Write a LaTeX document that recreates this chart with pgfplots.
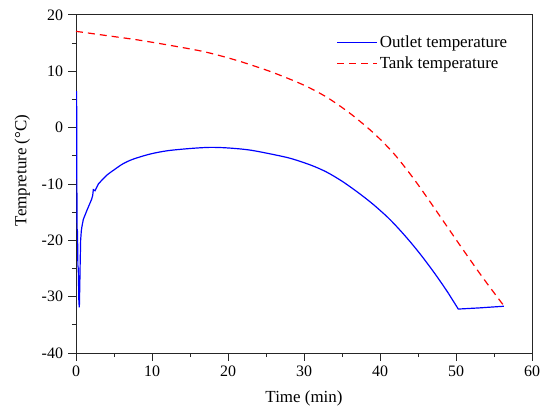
\documentclass[border=0pt]{standalone}
\usepackage{fontspec}
\setmainfont{Liberation Serif}
\usepackage{pgfplots}
\pgfplotsset{compat=1.18}
\begin{document}
\fontsize{16}{19}\selectfont
\begin{tikzpicture}
\begin{axis}[
 scale only axis, width=456bp, height=338bp,
 xmin=0, xmax=60, ymin=-40, ymax=20,
 xtick={0,10,...,60}, ytick={-40,-30,...,20},
 minor tick num=1,
 tick pos=left, tick align=outside,
 major tick length=7.5bp, minor tick length=4bp,
 axis line style={line width=1pt, black!85},
 every tick/.style={black!85, line width=1pt},
 /pgf/number format/assume math mode=true,
 ticklabel style={font=\fontsize{16}{19}\selectfont},
 xlabel={Time (min)}, ylabel={Tempreture (°C)},
 label style={font=\fontsize{17}{20}\selectfont},
 xlabel style={yshift=-3bp},
 ylabel style={at={(ticklabel cs:0.54)}},
 ylabel shift=1bp,
 legend cell align=left,
 legend style={draw=none, fill=none, at={(rel axis cs:0.957,0.952)}, anchor=north east, font=\fontsize{17}{21}\selectfont, row sep=3bp},
 legend image code/.code={\draw[#1] (0bp,0bp) -- (40bp,0bp);},
]
\addplot[blue, line width=1.2pt] coordinates {
(0.08,6.5) (0.09,2) (0.1,-5) (0.12,-12) (0.15,-18) (0.2,-18.5) (0.25,-24.5) (0.3,-25) (0.38,-31) (0.44,-31.9) (0.5,-28) (0.55,-24) (0.61,-20) (0.7,-18.3) (0.79,-17.5) (0.96,-16.3) (1.4,-14.8) (2.06,-12.7) (2.2,-12) (2.28,-11) (2.5,-11.2) (2.94,-10)
};
\addlegendentry{Outlet temperature}
\addplot[red, line width=1.2pt, dash pattern=on 7bp off 5bp, smooth] coordinates {
(0,17.1) (4,16.35) (8,15.6) (12,14.7) (16.8,13.5) (21,12.0) (25.5,10.0) (29.9,7.6) (33,5.4) (36,2.6) (38.7,-0.4) (40.5,-2.7) (42.2,-5.2) (44.4,-9.0) (46.4,-12.8) (48.8,-17.5) (51,-21.8) (53.3,-26.2) (55,-29.3) (56.4,-31.8)
};
\addlegendentry{Tank temperature}
\addplot[blue, line width=1.2pt, smooth, forget plot] coordinates {
(2.94,-10) (4.0,-8.5) (5.1,-7.4) (6.2,-6.4) (7.5,-5.6) (9.7,-4.7) (12,-4.1) (15,-3.7) (17.6,-3.5) (20,-3.6) (23,-4.0) (26.8,-5.0) (28.6,-5.6) (31,-6.7) (33,-7.9) (35,-9.5) (37,-11.4) (39,-13.5) (41,-15.9) (42.5,-18.0) (44,-20.3) (45.5,-22.8) (47,-25.5) (48.2,-27.8) (49,-29.4)
};
\addplot[blue, line width=1.2pt, forget plot] coordinates {
(49,-29.4) (50.3,-32.2) (53,-32.0) (56.3,-31.7)
};
\coordinate (bl) at (rel axis cs:0,0);
\coordinate (tr) at (rel axis cs:1,1);
\end{axis}
\pgfresetboundingbox
\path ([shift={(-76bp,-58bp)}]bl) rectangle ([shift={(18bp,15bp)}]tr);
\end{tikzpicture}
\end{document}
